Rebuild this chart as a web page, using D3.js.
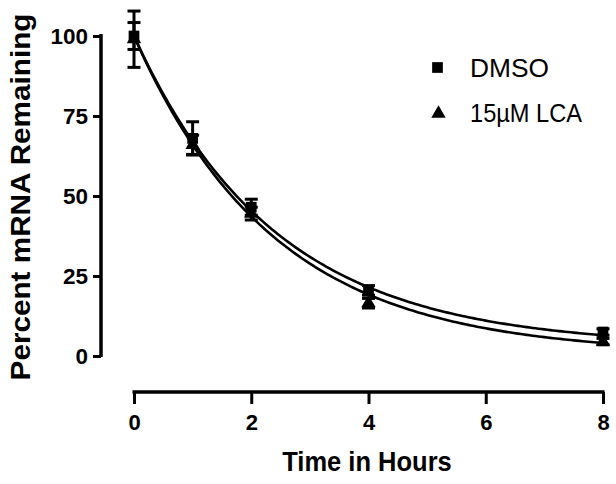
<!DOCTYPE html>
<html>
<head>
<meta charset="utf-8">
<script src="https://cdn.jsdelivr.net/npm/d3@7"></script>
<style>
  body { margin: 0; background: #fff; }
  svg { display: block; font-family: Arial, "Liberation Sans", sans-serif; }
</style>
</head>
<body>
<div id="chart"></div>
<script>
// time points (hours)
var hours = [0, 1, 2, 4, 8];
// percent mRNA remaining, mean and error
var dmsoMean = [100, 68, 46.5, 20.5, 7.5];
var dmsoErr  = [4.2, 5.2, 2.5, 1.5, 1];
var lcaMean  = [99, 66, 44.5, 16.5, 4.5];
var lcaErr   = [8.8, 3, 2, 1.5, 1];
// one phase decay fits: Y = (top - plateau) * exp(-k t) + plateau
var fitTop     = [100, 100];
var fitPlateau = [2.96, 0.6];
var fitK       = [0.414, 0.419];
var seriesNames = ["DMSO", "15\u00b5M LCA"];
var xTicks = [0, 2, 4, 6, 8];
var yTicks = [0, 25, 50, 75, 100];

var width = 616, height = 484;

var svg = d3.select("#chart")
  .append("svg")
  .attr("width", width)
  .attr("height", height);

var x = d3.scaleLinear().domain([0, 8]).range([134, 603]);
var y = d3.scaleLinear().domain([0, 100]).range([356, 36]);

// Y axis
var yAxis = svg.append("g")
  .attr("transform", "translate(101,0)")
  .call(d3.axisLeft(y).tickValues(yTicks).tickSize(8).tickPadding(5));
yAxis.select(".domain").attr("d", "M0," + (y(0) + 1) + "V" + (y(100) - 2))
  .attr("stroke", "#000").attr("stroke-width", 3.5);
yAxis.selectAll(".tick line").attr("stroke", "#000").attr("stroke-width", 3);
yAxis.selectAll(".tick text")
  .attr("font-size", 22.5).attr("font-weight", "bold").attr("fill", "#000")
  .attr("font-family", "Arial, 'Liberation Sans', sans-serif");

// X axis
var xAxis = svg.append("g")
  .attr("transform", "translate(0,392)")
  .call(d3.axisBottom(x).tickValues(xTicks).tickSize(0).tickPadding(10));
xAxis.select(".domain").attr("d", "M" + (x(0) - 1.5) + ",0H" + (x(8) + 1.5))
  .attr("stroke", "#000").attr("stroke-width", 3.5);
xAxis.selectAll(".tick line").attr("y2", 12).attr("stroke", "#000").attr("stroke-width", 3);
xAxis.selectAll(".tick text")
  .attr("y", 22).attr("dy", "0.71em")
  .attr("font-size", 22).attr("font-weight", "bold").attr("fill", "#000")
  .attr("font-family", "Arial, 'Liberation Sans', sans-serif");

// axis titles
svg.append("text")
  .attr("transform", "translate(30,197) rotate(-90) scale(1.1,1)")
  .attr("text-anchor", "middle")
  .attr("font-size", 27).attr("font-weight", "bold")
  .text("Percent mRNA Remaining");

svg.append("text")
  .attr("transform", "translate(367,471) scale(1,1.1)")
  .attr("text-anchor", "middle")
  .attr("font-size", 25.5).attr("font-weight", "bold")
  .text("Time in Hours");

// fitted curves
var samples = d3.range(0, 8.001, 0.05);
[0, 1].forEach(function (s) {
  var pts = samples.map(function (t) {
    return [t, (fitTop[s] - fitPlateau[s]) * Math.exp(-fitK[s] * t) + fitPlateau[s]];
  });
  svg.append("path")
    .datum(pts)
    .attr("fill", "none")
    .attr("stroke", "#000")
    .attr("stroke-width", 2.6)
    .attr("d", d3.line()
      .x(function (d) { return x(d[0]); })
      .y(function (d) { return y(d[1]); }));
});

// error bars
function errorBars(means, errs) {
  var g = svg.append("g").attr("stroke", "#000").attr("stroke-width", 3);
  hours.forEach(function (h, i) {
    var cx = x(h), top = y(means[i] + errs[i]), bot = y(means[i] - errs[i]);
    g.append("line").attr("x1", cx).attr("x2", cx).attr("y1", top).attr("y2", bot);
    g.append("line").attr("x1", cx - 6.5).attr("x2", cx + 6.5).attr("y1", top).attr("y2", top);
    g.append("line").attr("x1", cx - 6.5).attr("x2", cx + 6.5).attr("y1", bot).attr("y2", bot);
  });
}
errorBars(dmsoMean, dmsoErr);
errorBars(lcaMean, lcaErr);

// markers
var square = d3.symbol().type(d3.symbolSquare).size(115);
var triangle = d3.symbol().type(d3.symbolTriangle).size(90);

svg.selectAll(".sq")
  .data(hours)
  .join("path")
  .attr("class", "sq")
  .attr("d", square)
  .attr("fill", "#000")
  .attr("transform", function (d, i) { return "translate(" + x(d) + "," + y(dmsoMean[i]) + ")"; });

svg.selectAll(".tri")
  .data(hours)
  .join("path")
  .attr("class", "tri")
  .attr("d", triangle)
  .attr("fill", "#000")
  .attr("transform", function (d, i) { return "translate(" + x(d) + "," + y(lcaMean[i]) + ")"; });

// legend
var legend = svg.append("g");
legend.append("path").attr("d", square).attr("fill", "#000")
  .attr("transform", "translate(437.5,67.5)");
legend.append("path").attr("d", triangle).attr("fill", "#000")
  .attr("transform", "translate(438.5,113.5)");
legend.selectAll("text")
  .data(seriesNames)
  .join("text")
  .attr("x", 470)
  .attr("y", function (d, i) { return 77 + i * 45; })
  .attr("font-size", 25.5)
  .attr("textLength", function (d, i) { return i === 0 ? 79 : 112; })
  .attr("lengthAdjust", "spacingAndGlyphs")
  .text(function (d) { return d; });
</script>
</body>
</html>
